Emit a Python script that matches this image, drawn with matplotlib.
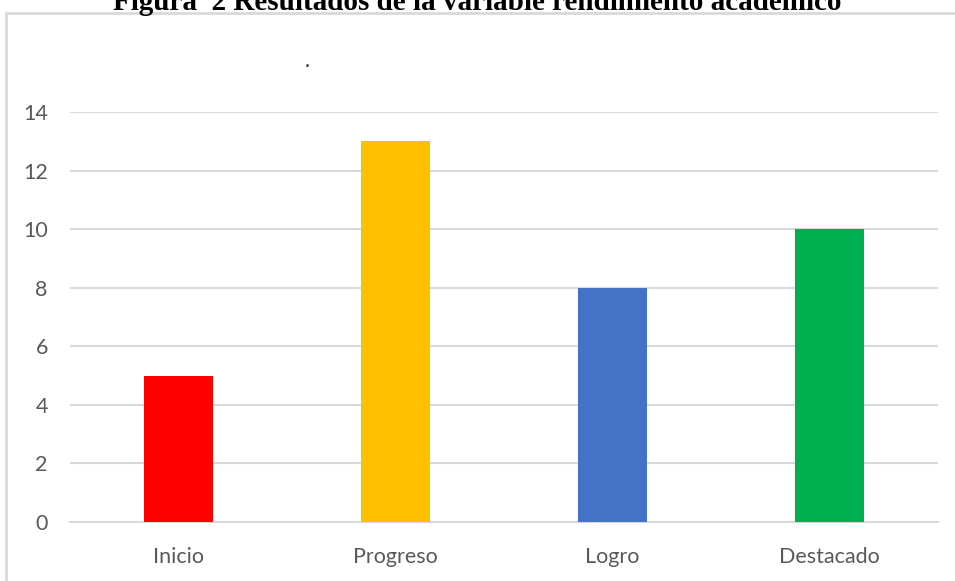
import matplotlib.pyplot as plt
from matplotlib.patches import Rectangle

categories = ["Inicio", "Progreso", "Logro", "Destacado"]
values = [5, 13, 8, 10]
bar_colors = ["#ff0000", "#ffc000", "#4472c4", "#00b050"]
yticks = [0, 2, 4, 6, 8, 10, 12, 14]

fig = plt.figure(figsize=(9.55, 5.81), dpi=100)
ax = fig.add_axes([70 / 955, 1 - 522 / 581, 868 / 955, 410 / 581])

ax.bar(range(len(categories)), values, width=0.315, color=bar_colors, zorder=3)
ax.set_xlim(-0.5, len(categories) - 0.5)
ax.set_ylim(0, 14)
ax.set_yticks(yticks)
ax.set_xticks(range(len(categories)))
ax.set_xticklabels(categories)

for side in ["top", "right", "left"]:
    ax.spines[side].set_visible(False)
ax.spines["bottom"].set_color("#d9d9d9")
ax.spines["bottom"].set_linewidth(1.5)
ax.grid(axis="y", color="#d9d9d9", linewidth=1.5, zorder=0)
ax.tick_params(axis="both", length=0, colors="#595959", labelsize=15.5)
ax.tick_params(axis="y", pad=16)
ax.tick_params(axis="x", pad=18)
for lbl in ax.get_xticklabels() + ax.get_yticklabels():
    lbl.set_family("Lato")

# chart frame (only the left and top edges are inside the picture)
fig.patches.append(Rectangle((6 / 955, -0.1), 1.2, 1 - 13 / 581 + 0.1,
                             transform=fig.transFigure, fill=False,
                             edgecolor="#d9d9d9", linewidth=2, zorder=0))

fig.text(0.5, 1 - 10 / 581, "Figura  2 Resultados de la variable rendimiento académico",
         ha="center", va="baseline", family="Liberation Serif",
         fontweight="bold", fontsize=21, color="#000000")
fig.text(307 / 955, 1 - 61 / 581, ".", ha="center", va="center",
         fontsize=16, color="#404040")

fig.savefig("out.png", dpi=100)
